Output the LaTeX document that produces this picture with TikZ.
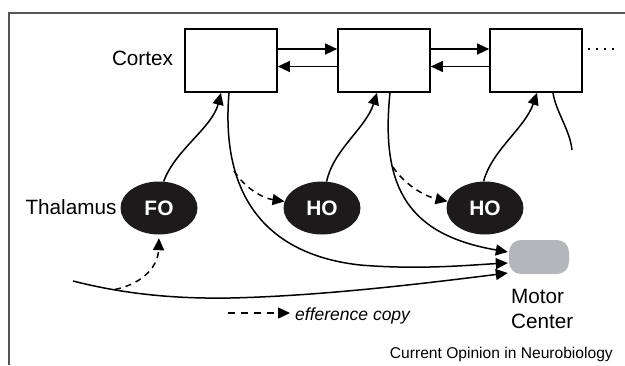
\documentclass[tikz,border=0pt]{standalone}
\usepackage{fontspec}
\setmainfont{Liberation Sans}
\usetikzlibrary{arrows.meta,shapes.geometric}
\definecolor{motorgray}{RGB}{181,182,186}
\definecolor{nucleusfill}{RGB}{28,26,26}
\definecolor{framegray}{RGB}{85,85,85}
\begin{document}
\begin{tikzpicture}[x=1pt, y=-1pt,
    cortexbox/.style={draw, line width=1.7pt, minimum width=92pt, minimum height=63pt, inner sep=0pt},
    nucleus/.style={ellipse, fill=nucleusfill, text=white, minimum width=77pt, minimum height=53pt, inner sep=0pt, font=\fontsize{20.9}{24}\selectfont\bfseries},
    lbl/.style={inner sep=0pt, font=\fontsize{20.7}{25}\selectfont},
    arr/.style={line width=1.5pt, -{Triangle[length=12pt,width=11pt]}},
    efcopy/.style={arr, dash pattern=on 6pt off 5pt}]
    \useasboundingbox (0,0) rectangle (625,365);
    \draw[framegray, line width=1.4pt] (9,365) -- (9,13) -- (625,13);

    \node[cortexbox] (c1) at (231,60.5) {};
    \node[cortexbox] (c2) at (384,60.5) {};
    \node[cortexbox] (c3) at (536,60.5) {};
    \node[lbl, anchor=base] (cortex) at (142.5,65.7) {Cortex};

    \node[nucleus] (fo) at (159,208) {FO};
    \node[nucleus] (ho1) at (322,208) {HO};
    \node[nucleus] (ho2) at (485,208) {HO};
    \node[lbl, anchor=base] (thalamus) at (71,214) {Thalamus};

    \node[fill=motorgray, rounded corners=12pt, minimum width=60pt, minimum height=34pt, inner sep=0pt] (mc) at (539,257) {};
    \node[lbl, align=left, anchor=base west] (motor) at (511,328.3) {Motor\\Center};

    % cortico-cortical arrows
    \draw[arr] ([yshift=11.5pt]c1.east) -- ([yshift=11.5pt]c2.west);
    \draw[arr] ([yshift=-6pt]c2.west) -- ([yshift=-6pt]c1.east);
    \draw[arr] ([yshift=11.5pt]c2.east) -- ([yshift=11.5pt]c3.west);
    \draw[arr] ([yshift=-6pt]c3.west) -- ([yshift=-6pt]c2.east);
    \coordinate (dotsA) at (588,49);
    \coordinate (dotsB) at (616,49);
    \draw[line width=1.5pt, dash pattern=on 1.5pt off 6.5pt] (dotsA) -- (dotsB);

    % thalamus to cortex
    \draw[arr] (fo.80) .. controls (175,150) and (212,128) .. ([xshift=-10pt]c1.south);
    \draw[arr] (ho1.80) .. controls (333,150) and (366,128) .. ([xshift=-7pt]c2.south);
    \draw[arr] (ho2.93) .. controls (492,150) and (525,128) .. ([xshift=1pt]c3.south);

    % cortex to motor center
    \draw[arr] ([xshift=-2pt]c1.south) .. controls (220,200) and (270,255) .. (360,265)
        .. controls (420,270) and (470,265) .. ([xshift=-1pt,yshift=-6pt]mc.west);
    \draw[arr] ([xshift=6pt]c2.south) .. controls (380,190) and (410,235) .. ([xshift=-1pt,yshift=5pt]mc.west);
    \coordinate (c3end) at (572,150);
    \draw[line width=1.5pt] ([xshift=17pt]c3.south) .. controls (556,112) and (570,130) .. (c3end);

    % subcortical input
    \coordinate (inStart) at (73,281);
    \draw[arr] (inStart) .. controls (120,293) and (170,299) .. (230,298)
        .. controls (320,296) and (420,284) .. ([xshift=-1pt,yshift=-16pt]mc.west);

    % efference copies
    \coordinate (ec0) at (115,289.5);
    \coordinate (ec1) at (234,171);
    \coordinate (ec2) at (393,167);
    \draw[efcopy] (ec0) .. controls (145,283) and (158,265) .. ([yshift=-3.5pt]fo.south);
    \draw[efcopy] (ec1) .. controls (245,188) and (262,198) .. (ho1.170);
    \draw[efcopy] (ec2) .. controls (404,184) and (424,196) .. (ho2.170);

    % legend
    \coordinate (legA) at (228,313);
    \coordinate (legB) at (290,313);
    \draw[arr, dash pattern=on 7pt off 6pt] (legA) -- (legB);
    \node[inner sep=0pt, anchor=base west, font=\fontsize{17.5}{20}\selectfont\itshape] (legtext) at (295,320) {efference copy};

    \node[inner sep=0pt, anchor=base east, font=\fontsize{15.6}{18}\selectfont] (credit) at (613,358.5) {Current Opinion in Neurobiology};
\end{tikzpicture}
\end{document}
